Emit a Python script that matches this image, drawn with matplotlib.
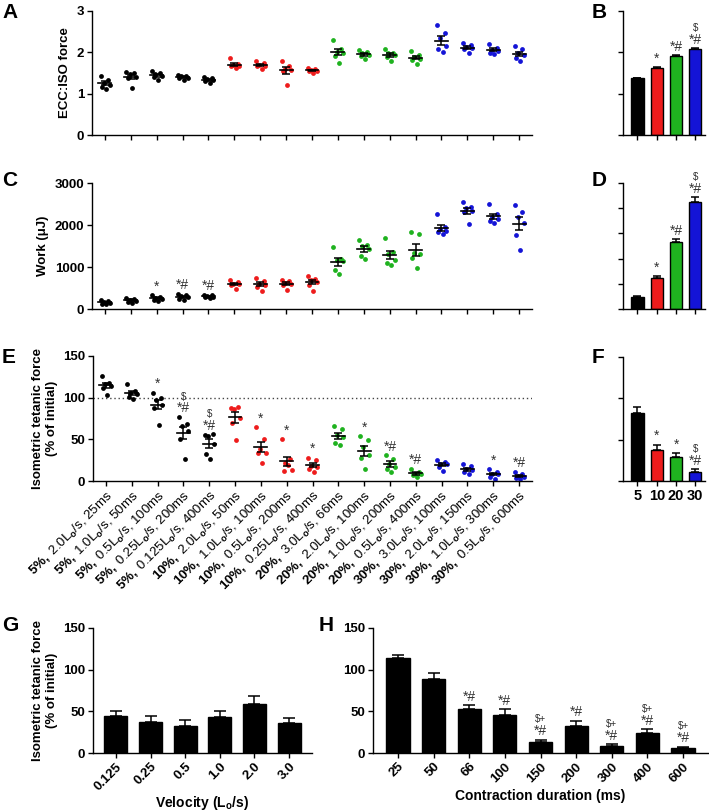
import numpy as np
import matplotlib
matplotlib.use('Agg')
import matplotlib.pyplot as plt

plt.rcParams['font.family'] = ['Liberation Sans', 'DejaVu Sans']
plt.rcParams['font.weight'] = 'bold'
plt.rcParams['axes.labelweight'] = 'bold'
plt.rcParams['mathtext.fontset'] = 'custom'
plt.rcParams['mathtext.rm'] = 'Liberation Sans'
plt.rcParams['mathtext.bf'] = 'Liberation Sans:bold'
plt.rcParams['mathtext.it'] = 'Liberation Sans:italic'

# ── data ──────────────────────────────────────────────────────────────────────
STRAINS    = ['5%', '5%', '5%', '5%', '5%', '10%', '10%', '10%', '10%',
              '20%', '20%', '20%', '20%', '30%', '30%', '30%', '30%']
VELOCITIES = ['2.0', '1.0', '0.5', '0.25', '0.125', '2.0', '1.0', '0.5', '0.25',
              '3.0', '2.0', '1.0', '0.5', '3.0', '2.0', '1.0', '0.5']
DURATIONS  = ['25', '50', '100', '200', '400', '50', '100', '200', '400',
              '66', '100', '200', '400', '100', '150', '300', '600']

ECC_ISO = [
    [1.42, 1.34, 1.27, 1.22, 1.16, 1.11],
    [1.52, 1.50, 1.47, 1.40, 1.38, 1.14],
    [1.56, 1.51, 1.48, 1.43, 1.40, 1.32],
    [1.46, 1.43, 1.42, 1.39, 1.37, 1.32],
    [1.40, 1.38, 1.35, 1.32, 1.30, 1.26],
    [1.86, 1.72, 1.70, 1.67, 1.66, 1.62],
    [1.80, 1.74, 1.70, 1.67, 1.66, 1.59],
    [1.78, 1.66, 1.59, 1.58, 1.54, 1.22],
    [1.62, 1.59, 1.58, 1.56, 1.54, 1.51],
    [2.30, 2.07, 2.02, 1.98, 1.91, 1.75],
    [2.06, 2.02, 1.98, 1.94, 1.91, 1.83],
    [2.07, 1.99, 1.98, 1.94, 1.88, 1.78],
    [2.04, 1.94, 1.88, 1.83, 1.82, 1.72],
    [2.67, 2.46, 2.34, 2.15, 2.07, 2.02],
    [2.22, 2.18, 2.14, 2.10, 2.07, 1.99],
    [2.20, 2.10, 2.06, 2.04, 1.99, 1.96],
    [2.15, 2.07, 1.98, 1.94, 1.86, 1.80],
]
WORK = [
    [220, 185, 170, 150, 130, 110],
    [264, 248, 224, 200, 168, 144],
    [330, 290, 260, 240, 220, 190],
    [360, 328, 304, 280, 248, 216],
    [344, 328, 304, 296, 280, 264],
    [680, 648, 600, 584, 568, 488],
    [744, 664, 600, 568, 520, 424],
    [690, 660, 630, 600, 580, 450],
    [790, 720, 680, 640, 570, 440],
    [1480, 1184, 1160, 1144, 920, 824],
    [1640, 1528, 1504, 1424, 1264, 1184],
    [1688, 1368, 1320, 1160, 1104, 1048],
    [1824, 1784, 1344, 1304, 1208, 968],
    [2264, 1944, 1904, 1864, 1824, 1784],
    [2544, 2440, 2408, 2328, 2304, 2024],
    [2504, 2264, 2184, 2144, 2104, 2040],
    [2480, 2300, 2200, 2050, 1760, 1400],
]
TETANIC = [
    [126, 118, 116, 114, 112, 103],
    [117, 108, 106, 104, 101, 99],
    [106, 100, 97, 91, 88, 67],
    [77, 68, 66, 60, 51, 26],
    [55, 56, 54, 45, 33, 27],
    [88, 89, 86, 76, 70, 49],
    [65, 50, 38, 34, 34, 22],
    [50, 26, 22, 13, 12, 19],
    [28, 25, 18, 17, 15, 11],
    [66, 63, 55, 53, 46, 43],
    [54, 49, 41, 31, 28, 15],
    [31, 27, 21, 17, 15, 11],
    [15, 11, 9, 8, 7, 5],
    [25, 23, 21, 20, 17, 12],
    [21, 18, 14, 13, 11, 9],
    [14, 11, 9, 8, 5, 3],
    [11, 8, 6, 5, 4, 3],
]
C_SIG = {2: ['*'], 3: ['*#'], 4: ['*#']}
E_SIG = {2: ['*'], 3: ['*#', '$'], 4: ['*#', '$'], 6: ['*'], 7: ['*'], 8: ['*'],
         10: ['*'], 11: ['*#'], 12: ['*#'], 15: ['*'], 16: ['*#']}

STRAIN_LABELS = ['5', '10', '20', '30']
B_MEAN = [1.37, 1.61, 1.90, 2.07]
B_SEM  = [0.02, 0.03, 0.03, 0.03]
D_MEAN = [240, 620, 1320, 2120]
D_SEM  = [15, 25, 60, 100]
F_MEAN = [82, 38, 29, 11]
F_SEM  = [7, 6, 5, 3]
BDF_SIG = [[], ['*'], ['*#'], ['*#', '$']]
F_SIG   = [[], ['*'], ['*'], ['*#', '$']]

G_LABELS = ['0.125', '0.25', '0.5', '1.0', '2.0', '3.0']
G_MEAN   = [44.6, 37.6, 32, 43, 59, 36]
G_SEM    = [5.4, 7.4, 8, 8, 9, 6]

H_LABELS = ['25', '50', '66', '100', '150', '200', '300', '400', '600']
H_MEAN   = [114, 89, 53, 45.6, 13.6, 33, 8, 24, 5.6]
H_SEM    = [3.6, 7, 4.6, 7.2, 2.4, 5.6, 2.4, 4.8, 2.0]
H_SIG    = [[], [], ['*#'], ['*#'], ['*#', '$+'], ['*#'], ['*#', '$+'],
            ['*#', '$+'], ['*#', '$+']]

# ── aesthetics ────────────────────────────────────────────────────────────────
BLACK, RED, GREEN, BLUE = '#000000', '#ee1c1c', '#1fb21f', '#1414d6'
GROUP_COLORS = {'5%': BLACK, '10%': RED, '20%': GREEN, '30%': BLUE}
BAR_COLORS = [BLACK, RED, GREEN, BLUE]
JITTER = [-0.17, 0.13, -0.05, 0.19, -0.12, 0.05]
W, H = 709, 811
TICK_FS = 9.5
LABEL_FS = 9.5
SIG_COLOR = '#333333'


def px_axes(fig, l, t, r, b):
    return fig.add_axes([l / W, 1 - b / H, (r - l) / W, (b - t) / H])


def style(ax):
    for s in ['top', 'right']:
        ax.spines[s].set_visible(False)
    for s in ['left', 'bottom']:
        ax.spines[s].set_linewidth(1.0)
    ax.tick_params(direction='out', length=3.5, width=1.0, labelsize=TICK_FS, pad=2)


def sig(ax, x, y, lines, big=10, small=7, base=1):
    off = base
    for k, s in enumerate(lines):
        fs = big if k == 0 else small
        ax.annotate(s, (x, y), xytext=(0, off), textcoords='offset points',
                    ha='center', va='bottom', fontsize=fs, color=SIG_COLOR,
                    fontweight='normal')
        off += fs * 1.0


def scatter_panel(ax, data, ylim, yticks, sigs=None, sig_base=1):
    for i, vals in enumerate(data):
        vals = np.asarray(vals, dtype=float)
        c = GROUP_COLORS[STRAINS[i]]
        ax.scatter(i + np.array(JITTER[:len(vals)]), vals, s=12, color=c,
                   linewidths=0, zorder=2)
        m = vals.mean()
        sem = vals.std(ddof=1) / np.sqrt(len(vals))
        ax.plot([i - 0.25, i + 0.25], [m, m], color='black', lw=1.2, zorder=3)
        ax.errorbar(i, m, yerr=sem, fmt='none', ecolor='black', elinewidth=1.1,
                    capsize=2.8, capthick=1.1, zorder=3)
        if sigs and i in sigs:
            sig(ax, i, vals.max(), sigs[i], base=sig_base)
    ax.set_xlim(-0.5, 16.5)
    ax.set_ylim(*ylim)
    ax.set_yticks(yticks)
    ax.set_xticks(range(len(data)))
    style(ax)


def bar_panel(ax, means, sems, colors, ylim, yticks, width=0.63, capsize=3,
              sigs=None, xlim=None, sig_base=1):
    x = np.arange(len(means))
    ax.bar(x, means, width=width, color=colors, edgecolor='black', linewidth=1.0,
           zorder=2)
    ax.errorbar(x, means, yerr=[np.zeros(len(sems)), sems], fmt='none',
                ecolor='black', elinewidth=1.1, capsize=capsize, capthick=1.1,
                zorder=1)
    if sigs:
        for i, s in enumerate(sigs):
            if s:
                sig(ax, i, means[i] + sems[i], s, base=sig_base)
    ax.set_ylim(*ylim)
    ax.set_yticks(yticks)
    ax.set_xticks(x)
    if xlim:
        ax.set_xlim(*xlim)
    style(ax)


fig = plt.figure(figsize=(W / 100, H / 100), dpi=100)

# A
axA = px_axes(fig, 92, 11, 532, 135)
scatter_panel(axA, ECC_ISO, (0, 3), [0, 1, 2, 3])
axA.set_xticklabels([])
axA.set_ylabel('ECC:ISO force', fontsize=LABEL_FS)

# B
axB = px_axes(fig, 623, 11, 705, 135)
bar_panel(axB, B_MEAN, B_SEM, BAR_COLORS, (0, 3), [0, 1, 2, 3],
          sigs=BDF_SIG, xlim=(-0.75, 3.5))
axB.set_xticklabels([])
axB.set_yticklabels([])

# C
axC = px_axes(fig, 92, 183, 532, 309)
scatter_panel(axC, WORK, (0, 3000), [0, 1000, 2000, 3000], sigs=C_SIG)
axC.set_xticklabels([])
axC.set_ylabel('Work (\u03bcJ)', fontsize=LABEL_FS)

# D
axD = px_axes(fig, 623, 183, 705, 309)
bar_panel(axD, D_MEAN, D_SEM, BAR_COLORS, (0, 2500), range(0, 2501, 500),
          sigs=BDF_SIG, xlim=(-0.75, 3.5))
axD.set_xticklabels([])
axD.set_yticklabels([])

# E
axE = px_axes(fig, 93, 356, 532, 481)
scatter_panel(axE, TETANIC, (0, 150), [0, 50, 100, 150], sigs=E_SIG)
axE.axhline(100, color='#444444', lw=1.0, ls=(0, (1, 2)), zorder=1)
e_labels = [r'$\mathbf{%s,}$ %sL$_\mathrm{o}$/s, %sms' % (s.replace('%', r'\%'), v, d)
            for s, v, d in zip(STRAINS, VELOCITIES, DURATIONS)]
axE.set_xticklabels(e_labels, rotation=45, ha='right', va='top',
                    rotation_mode='anchor', fontweight='normal', fontsize=TICK_FS)
axE.set_ylabel('Isometric tetanic force\n(% of initial)', fontsize=LABEL_FS)

# F
axF = px_axes(fig, 623, 357, 705, 481)
bar_panel(axF, F_MEAN, F_SEM, BAR_COLORS, (0, 150), [0, 50, 100, 150],
          sigs=F_SIG, xlim=(-0.75, 3.5))
axF.set_xticklabels(STRAIN_LABELS, fontsize=TICK_FS + 1)
axF.set_yticklabels([])

# G
axG = px_axes(fig, 93, 628, 312, 753)
bar_panel(axG, G_MEAN, G_SEM, 'black', (0, 150), [0, 50, 100, 150],
          width=0.67, capsize=4.5, xlim=(-0.66, 5.66))
axG.set_xticklabels(G_LABELS, rotation=45, ha='right', va='top',
                    rotation_mode='anchor')
axG.set_ylabel('Isometric tetanic force\n(% of initial)', fontsize=LABEL_FS)
axG.set_xlabel('Velocity (L$_\\mathbf{o}$/s)', fontsize=LABEL_FS + 0.5)
axG.xaxis.set_label_coords(0.5, -0.325)

# H
axH = px_axes(fig, 373, 628, 708, 753)
bar_panel(axH, H_MEAN, H_SEM, 'black', (0, 150), [0, 50, 100, 150],
          width=0.65, capsize=4.5, sigs=H_SIG, xlim=(-0.7, 8.7))
axH.set_xticklabels(H_LABELS, rotation=45, ha='right', va='top',
                    rotation_mode='anchor')
axH.set_xlabel('Contraction duration (ms)', fontsize=LABEL_FS + 0.5)
axH.xaxis.set_label_coords(0.5, -0.29)

# panel letters
for letter, x, y in [('A', 2, 3), ('B', 592, 3), ('C', 2, 171), ('D', 592, 171),
                     ('E', 2, 348), ('F', 592, 348), ('G', 2, 616), ('H', 319, 616)]:
    fig.text(x / W, 1 - y / H, letter, fontsize=15, fontweight='bold',
             ha='left', va='top')

fig.savefig('out.png', dpi=100)
